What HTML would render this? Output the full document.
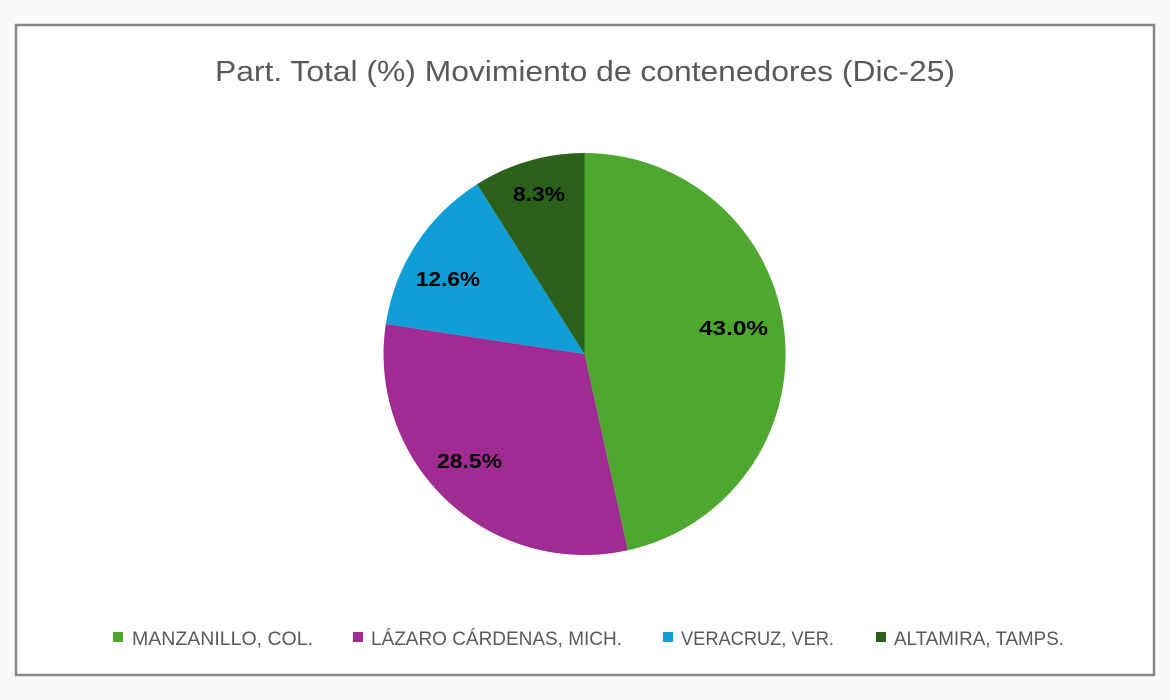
<!DOCTYPE html>
<html><head><meta charset="utf-8"><style>
body{margin:0;background:#fafafa;}
svg{display:block}
</style></head><body>
<svg width="1170" height="700" xmlns="http://www.w3.org/2000/svg">
<rect x="0" y="0" width="1170" height="700" fill="#fafafa"/>
<rect x="16" y="25" width="1138" height="650" fill="#fff" stroke="#888" stroke-width="2.5"/>
<text x="215" y="81" textLength="740" lengthAdjust="spacingAndGlyphs" font-family="Liberation Sans, sans-serif" font-size="29" fill="#595959">Part. Total (%) Movimiento de contenedores (Dic-25)</text>
<g stroke="#fff" stroke-width="0">
<path d="M584.5,354 L584.5,153 A201,201 0 0 1 627.8,550.3 Z" fill="#4ea72e"/>
<path d="M584.5,354 L627.8,550.3 A201,201 0 0 1 385.8,324 Z" fill="#a02b93"/>
<path d="M584.5,354 L385.8,324 A201,201 0 0 1 477,184.2 Z" fill="#0f9ed5"/>
<path d="M584.5,354 L477,184.2 A201,201 0 0 1 584.5,153 Z" fill="#2b611b"/>
</g>
<g font-family="Liberation Sans, sans-serif" font-size="20" font-weight="bold" fill="#000" lengthAdjust="spacingAndGlyphs">
<text x="699" y="335" textLength="69" lengthAdjust="spacingAndGlyphs">43.0%</text>
<text x="437" y="468" textLength="65" lengthAdjust="spacingAndGlyphs">28.5%</text>
<text x="416" y="286" textLength="64" lengthAdjust="spacingAndGlyphs">12.6%</text>
<text x="513" y="201" textLength="52" lengthAdjust="spacingAndGlyphs">8.3%</text>
</g>
<g font-family="Liberation Sans, sans-serif" font-size="19" fill="#595959">
<rect x="113" y="632" width="10" height="10" fill="#4ea72e"/><text x="132" y="645" textLength="181" lengthAdjust="spacingAndGlyphs">MANZANILLO, COL.</text>
<rect x="353" y="632" width="10" height="10" fill="#a02b93"/><text x="371" y="645" textLength="251" lengthAdjust="spacingAndGlyphs">LÁZARO CÁRDENAS, MICH.</text>
<rect x="663" y="632" width="10" height="10" fill="#0f9ed5"/><text x="681" y="645" textLength="153" lengthAdjust="spacingAndGlyphs">VERACRUZ, VER.</text>
<rect x="876" y="632" width="10" height="10" fill="#2b611b"/><text x="894" y="645" textLength="170" lengthAdjust="spacingAndGlyphs">ALTAMIRA, TAMPS.</text>
</g>
</svg>
</body></html>
